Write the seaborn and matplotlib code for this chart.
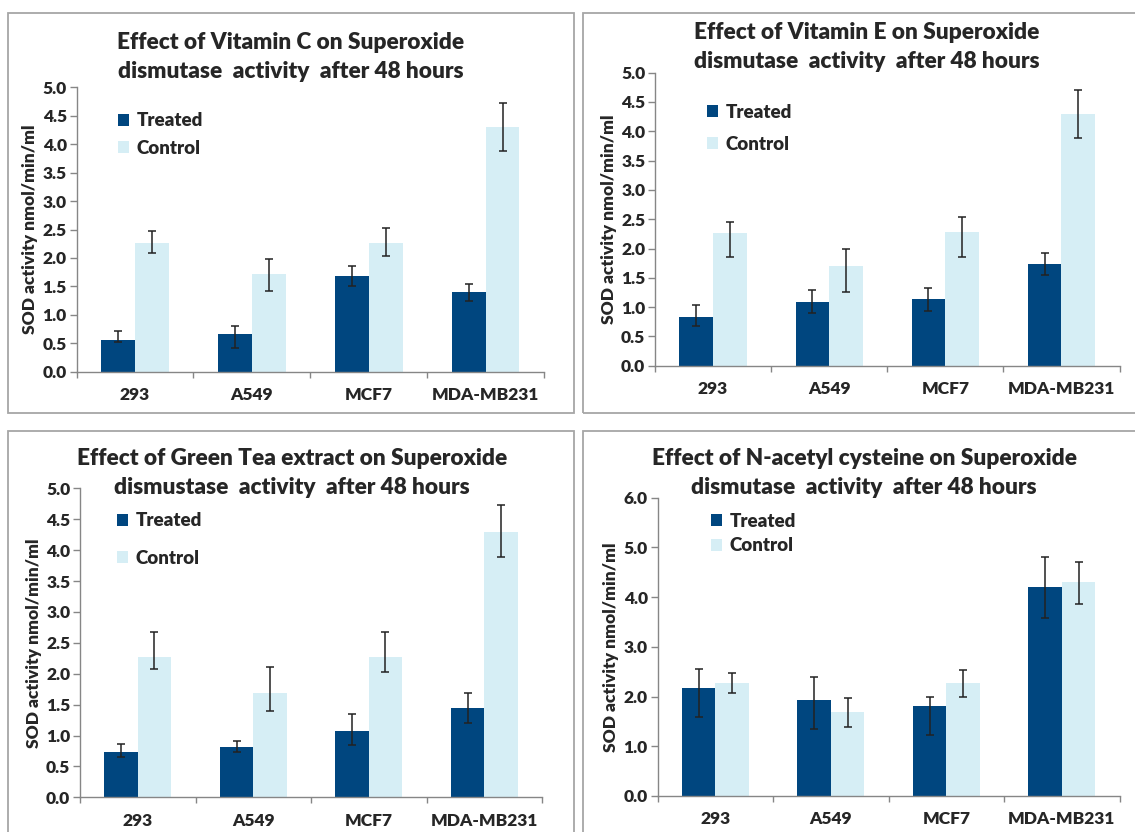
import numpy as np
import pandas as pd
import matplotlib
matplotlib.use("Agg")
import matplotlib.pyplot as plt
import seaborn as sns
from matplotlib.patches import Rectangle

# SOD activity (nmol/min/ml) after 48 hours
cells = ['293', 'A549', 'MCF7', 'MDA-MB231']
groups = ['Treated', 'Control']

vitc_treated = [0.55, 0.66, 1.69, 1.40]
vitc_control = [2.27, 1.71, 2.27, 4.31]
vitc_treated_lo = [0.53, 0.41, 1.51, 1.24]
vitc_treated_hi = [0.71, 0.81, 1.85, 1.55]
vitc_control_lo = [2.09, 1.41, 2.03, 3.88]
vitc_control_hi = [2.47, 1.99, 2.53, 4.73]

vite_treated = [0.83, 1.09, 1.13, 1.73]
vite_control = [2.26, 1.70, 2.28, 4.29]
vite_treated_lo = [0.67, 0.90, 0.94, 1.55]
vite_treated_hi = [1.03, 1.29, 1.33, 1.93]
vite_control_lo = [1.85, 1.26, 1.85, 3.89]
vite_control_hi = [2.46, 2.00, 2.54, 4.71]

gtea_treated = [0.74, 0.82, 1.08, 1.45]
gtea_control = [2.27, 1.68, 2.27, 4.30]
gtea_treated_lo = [0.65, 0.74, 0.85, 1.20]
gtea_treated_hi = [0.87, 0.91, 1.35, 1.69]
gtea_control_lo = [2.08, 1.39, 2.02, 3.89]
gtea_control_hi = [2.68, 2.11, 2.68, 4.73]

nac_treated = [2.18, 1.94, 1.82, 4.20]
nac_control = [2.28, 1.69, 2.28, 4.30]
nac_treated_lo = [1.58, 1.34, 1.22, 3.59]
nac_treated_hi = [2.55, 2.39, 2.00, 4.81]
nac_control_lo = [2.08, 1.39, 2.00, 3.87]
nac_control_hi = [2.47, 1.98, 2.53, 4.71]

titles = ['Effect of Vitamin C on Superoxide\ndismutase  activity  after 48 hours',
          'Effect of Vitamin E on Superoxide\ndismutase  activity  after 48 hours',
          'Effect of Green Tea extract on Superoxide\ndismustase  activity  after 48 hours',
          'Effect of N-acetyl cysteine on Superoxide\ndismutase  activity  after 48 hours']

DARK = '#00467F'
LIGHT = '#D6EEF5'
W, H = 1135, 832
WT = 'heavy'

sns.set_theme(style='white')
plt.rcParams['font.family'] = ['Lato', 'DejaVu Sans']
plt.rcParams['font.weight'] = WT

fig = plt.figure(figsize=(W / 100, H / 100), dpi=100)

# panel frames (pixels: left, top, right, bottom)
frames = [(8, 13, 574, 413), (583, 13, 1140, 413),
          (8, 431, 574, 840), (583, 431, 1140, 840)]
for l, t, r, b in frames:
    fig.add_artist(Rectangle((l / W, 1 - b / H), (r - l) / W, (b - t) / H,
                             transform=fig.transFigure, fill=False,
                             edgecolor='#A6A6A6', linewidth=1.3))

panels = [
    dict(t=vitc_treated, c=vitc_control, tl=vitc_treated_lo, th=vitc_treated_hi,
         cl=vitc_control_lo, ch=vitc_control_hi, box=(76.5, 87.3, 544, 371.7), ymax=5.0, step=0.5,
         title=titles[0], tx=291, ty=57, leg=(118, 134.5), lsp=0.55),
    dict(t=vite_treated, c=vite_control, tl=vite_treated_lo, th=vite_treated_hi,
         cl=vite_control_lo, ch=vite_control_hi, box=(655, 72.7, 1119.5, 365.7), ymax=5.0, step=0.5,
         title=titles[1], tx=867, ty=47, leg=(707, 128), lsp=0.8),
    dict(t=gtea_treated, c=gtea_control, tl=gtea_treated_lo, th=gtea_treated_hi,
         cl=gtea_control_lo, ch=gtea_control_hi, box=(80, 488.3, 542, 797.3), ymax=5.0, step=0.5,
         title=titles[2], tx=292, ty=473, leg=(117, 539.5), lsp=1.1),
    dict(t=nac_treated, c=nac_control, tl=nac_treated_lo, th=nac_treated_hi,
         cl=nac_control_lo, ch=nac_control_hi, box=(657.6, 497.7, 1119.5, 796), ymax=6.0, step=1.0,
         title=titles[3], tx=864, ty=473, leg=(711, 533.5), lsp=0.4),
]

for p in panels:
    l, t, r, b = p['box']
    ax = fig.add_axes([l / W, 1 - b / H, (r - l) / W, (b - t) / H])
    df = pd.DataFrame({'cell': cells * 2,
                       'group': [groups[0]] * 4 + [groups[1]] * 4,
                       'sod': p['t'] + p['c']})
    sns.barplot(data=df, x='cell', y='sod', hue='group', order=cells, hue_order=groups,
                palette=[DARK, LIGHT], width=0.58, errorbar=None, saturation=1,
                linewidth=0, ax=ax)

    # error bars at the bar centres
    vals = [p['t'], p['c']]
    los = [p['tl'], p['cl']]
    his = [p['th'], p['ch']]
    bar_sets = list(ax.containers)
    for k, cont in enumerate(bar_sets):
        xs = [bar.get_x() + bar.get_width() / 2 for bar in cont]
        v = np.array(vals[k])
        yerr = [v - np.array(los[k]), np.array(his[k]) - v]
        ax.errorbar(xs, v, yerr=yerr, fmt='none', ecolor='#222222',
                    elinewidth=1.1, capsize=3, capthick=1.1, zorder=5)

    ax.set_xlim(-0.5, 3.5)
    ax.set_ylim(0, p['ymax'])
    ticks = np.arange(0, p['ymax'] + 0.01, p['step'])
    ax.set_yticks(ticks)
    ax.set_yticklabels([f'{v:.1f}' for v in ticks], fontsize=12.5, fontweight=WT)
    ax.set_xticks(range(4))
    ax.set_xticklabels(cells, fontsize=12.5, fontweight=WT)
    ax.set_xticks([-0.5, 0.5, 1.5, 2.5, 3.5], minor=True)
    ax.tick_params(axis='x', which='major', length=0, pad=11)
    ax.tick_params(axis='x', which='minor', length=4, width=1, color='#868686', direction='out', bottom=True)
    ax.tick_params(axis='y', length=5, width=1, color='#868686', direction='out', left=True, pad=2)
    ax.set_xlabel('')
    ax.set_ylabel('SOD activity nmol/min/ml', fontsize=12.5, fontweight=WT, labelpad=3)
    for s in ['top', 'right']:
        ax.spines[s].set_visible(False)
    for s in ['left', 'bottom']:
        ax.spines[s].set_color('#868686')
        ax.spines[s].set_linewidth(1)
    ax.patch.set_alpha(0)

    lx, ly = p['leg']
    ax.legend(loc='center left', bbox_to_anchor=(lx / W, 1 - ly / H),
              bbox_transform=fig.transFigure, frameon=False,
              prop={'weight': WT, 'size': 13.5}, handlelength=0.6, handleheight=0.6,
              handletextpad=0.4, labelspacing=p['lsp'], borderpad=0, borderaxespad=0)

    fig.text(p['tx'] / W, 1 - p['ty'] / H, p['title'], ha='center', va='center',
             fontsize=16.3, fontweight=WT, linespacing=1.5)

fig.savefig('out.png', dpi=100)
